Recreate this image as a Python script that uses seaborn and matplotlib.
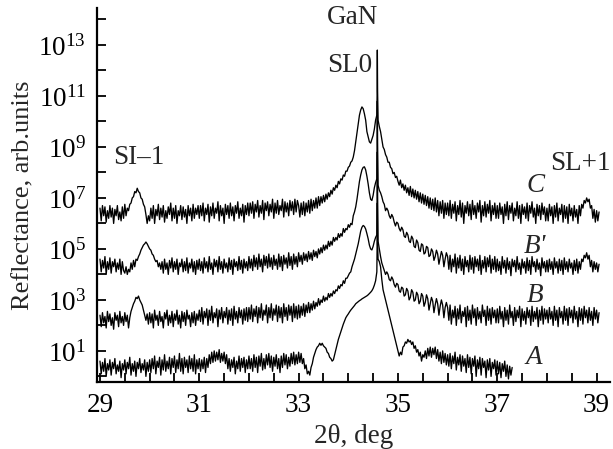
import numpy as np
import pandas as pd
import seaborn as sns
import matplotlib.pyplot as plt
from matplotlib.ticker import NullFormatter

# scan start / step in 2theta (deg); one row below = 1 deg (40 points)
# values are log10(reflectance)
SCAN_START = 29.0
SCAN_STEP = 0.025

# curve C (top)
C_LOG = [
    6.6, 6.1, 6.7, 6.3, 6.65, 6.05, 6.5, 6.2, 6.7, 6.25, 6.6, 6.0, 6.55, 6.3, 6.7, 6.15, 6.45, 6.1, 6.65, 6.2,
    6.75, 6.3, 6.6, 6.5, 6.75, 6.8, 7.0, 7.05, 7.25, 7.2, 7.38, 7.25, 7.2, 7.0, 6.95, 6.75, 6.65, 6.35, 6.0, 6.3,
    6.1, 6.6, 6.2, 6.7, 6.0, 6.55, 6.3, 6.75, 6.15, 6.6, 6.25, 6.7, 6.05, 6.5, 6.2, 6.65, 6.35, 6.8, 6.1, 6.6,
    6.2, 6.7, 6.0, 6.5, 6.3, 6.7, 6.15, 6.65, 6.25, 6.55, 6.0, 6.7, 6.3, 6.6, 6.1, 6.75, 6.2, 6.6, 6.35, 6.7,
    6.2, 6.7, 6.3, 6.8, 6.1, 6.6, 6.35, 6.75, 6.05, 6.65, 6.3, 6.8, 6.2, 6.6, 6.4, 6.85, 6.1, 6.7, 6.3, 6.6,
    6.0, 6.75, 6.35, 6.7, 6.2, 6.8, 6.3, 6.65, 6.1, 6.7, 6.4, 6.85, 6.2, 6.6, 6.3, 6.75, 6.05, 6.7, 6.35, 6.8,
    6.3, 6.8, 6.4, 6.85, 6.2, 6.75, 6.45, 6.9, 6.25, 6.7, 6.4, 6.9, 6.15, 6.8, 6.5, 6.85, 6.3, 6.75, 6.45, 6.95,
    6.2, 6.8, 6.4, 6.9, 6.35, 6.7, 6.5, 6.95, 6.25, 6.85, 6.45, 6.8, 6.3, 6.9, 6.5, 6.85, 6.35, 6.95, 6.45, 6.9,
    6.7, 6.25, 6.8, 6.35, 6.85, 6.3, 6.8, 6.45, 6.9, 6.4, 6.95, 6.5, 6.9, 6.6, 7.0, 6.6, 7.05, 6.7, 7.05, 6.8,
    7.1, 6.85, 7.15, 6.95, 7.2, 7.05, 7.3, 7.15, 7.4, 7.3, 7.5, 7.4, 7.65, 7.55, 7.75, 7.7, 7.9, 7.85, 8.05, 8.05,
    8.2, 8.25, 8.4, 8.45, 8.6, 8.85, 9.2, 9.55, 9.9, 10.25, 10.45, 10.57, 10.5, 10.3, 10.05, 9.6, 9.4, 9.2, 9.15, 9.3,
    9.45, 9.7, 10.05, 10.25, 10.05, 9.8, 9.6, 9.3, 9.0, 8.9, 8.7, 8.6, 8.4, 8.4, 8.2, 8.15, 7.95, 8.0, 7.8, 7.85,
    7.65, 7.5, 7.7, 7.4, 7.55, 7.3, 7.5, 7.2, 7.4, 7.1, 7.45, 7.05, 7.35, 7.0, 7.3, 6.95, 7.25, 6.85, 7.2, 6.8,
    7.15, 6.75, 7.1, 6.7, 7.05, 6.6, 7.0, 6.55, 6.95, 6.5, 7.0, 6.45, 6.9, 6.3, 6.85, 6.4, 6.9, 6.2, 6.8, 6.35,
    6.8, 6.3, 6.9, 6.2, 6.75, 6.4, 6.85, 6.1, 6.7, 6.35, 6.9, 6.25, 6.8, 6.0, 6.7, 6.4, 6.85, 6.3, 6.75, 6.15,
    6.9, 6.35, 6.7, 6.2, 6.8, 6.45, 6.9, 6.05, 6.7, 6.3, 6.85, 6.25, 6.75, 6.4, 6.9, 6.1, 6.7, 6.35, 6.8, 6.2,
    6.7, 6.2, 6.8, 6.35, 6.65, 6.0, 6.75, 6.3, 6.85, 6.15, 6.7, 6.4, 6.8, 6.1, 6.6, 6.3, 6.85, 6.2, 6.7, 6.0,
    6.75, 6.35, 6.65, 6.2, 6.8, 6.1, 6.7, 6.4, 6.85, 6.25, 6.6, 6.0, 6.75, 6.3, 6.7, 6.15, 6.8, 6.35, 6.65, 6.1,
    6.6, 6.1, 6.75, 6.3, 6.65, 6.0, 6.7, 6.25, 6.8, 6.1, 6.6, 6.35, 6.75, 6.05, 6.7, 6.2, 6.65, 6.0, 6.75, 6.3,
    6.6, 6.1, 6.7, 6.25, 6.55, 6.0, 6.7, 6.3, 6.75, 6.6, 6.9, 6.8, 7.0, 6.85, 6.95, 6.6, 6.7, 6.2, 6.55, 6.05,
    6.5, 6.1, 6.45,
]

# curve B'
BP_LOG = [
    4.6, 4.1, 4.55, 4.25, 4.7, 4.0, 4.5, 4.2, 4.65, 4.05, 4.5, 4.3, 4.6, 4.1, 4.45, 4.2, 4.6, 4.0, 4.5, 4.15,
    4.05, 4.3, 4.0, 4.2, 4.1, 4.45, 4.2, 4.55, 4.3, 4.6, 4.55, 4.7, 4.8, 4.95, 5.05, 5.15, 5.2, 5.27, 5.2, 5.1,
    5.0, 4.95, 4.8, 4.75, 4.6, 4.5, 4.55, 4.3, 4.45, 4.2, 4.5, 4.05, 4.6, 4.2, 4.45, 4.0, 4.55, 4.25, 4.65, 4.1,
    4.5, 4.2, 4.6, 4.0, 4.45, 4.3, 4.6, 4.1, 4.5, 4.15, 4.65, 4.05, 4.45, 4.25, 4.6, 4.1, 4.5, 4.0, 4.55, 4.2,
    4.6, 4.15, 4.5, 4.05, 4.65, 4.25, 4.5, 4.1, 4.7, 4.2, 4.45, 4.0, 4.6, 4.3, 4.55, 4.1, 4.7, 4.2, 4.5, 4.05,
    4.6, 4.25, 4.45, 4.1, 4.65, 4.2, 4.55, 4.0, 4.6, 4.3, 4.5, 4.15, 4.7, 4.2, 4.55, 4.05, 4.6, 4.25, 4.5, 4.15,
    4.7, 4.25, 4.6, 4.15, 4.75, 4.3, 4.65, 4.2, 4.8, 4.3, 4.6, 4.1, 4.75, 4.35, 4.7, 4.25, 4.8, 4.3, 4.65, 4.2,
    4.75, 4.35, 4.6, 4.2, 4.8, 4.3, 4.7, 4.15, 4.75, 4.4, 4.65, 4.25, 4.85, 4.35, 4.7, 4.2, 4.8, 4.4, 4.7, 4.3,
    4.85, 4.5, 4.75, 4.4, 4.85, 4.55, 4.8, 4.5, 4.9, 4.6, 4.85, 4.55, 4.95, 4.7, 4.9, 4.65, 5.0, 4.8, 5.05, 4.85,
    5.15, 4.95, 5.15, 5.0, 5.3, 5.1, 5.3, 5.15, 5.45, 5.3, 5.45, 5.35, 5.6, 5.45, 5.6, 5.5, 5.8, 5.65, 5.8, 5.75,
    5.95, 5.85, 6.0, 5.95, 6.3, 6.45, 6.65, 6.95, 7.3, 7.65, 7.9, 8.1, 8.2, 8.22, 8.1, 7.85, 7.55, 7.2, 6.95, 6.9,
    7.1, 7.4, 7.6, 7.75, 7.5, 7.3, 7.2, 7.05, 6.85, 6.75, 6.5, 6.6, 6.5, 6.3, 6.2, 6.35, 6.25, 6.05, 5.9, 6.05,
    6.0, 5.8, 5.7, 5.85, 5.75, 5.5, 5.45, 5.65, 5.55, 5.3, 5.25, 5.5, 5.4, 5.1, 5.05, 5.35, 5.25, 4.95, 4.9, 5.2,
    5.15, 4.8, 4.85, 5.1, 5.05, 4.7, 4.75, 5.0, 4.9, 4.55, 4.7, 4.95, 4.8, 4.4, 4.65, 4.9, 4.75, 4.3, 4.6, 4.85,
    4.7, 4.2, 4.75, 4.1, 4.6, 4.3, 4.8, 4.05, 4.65, 4.25, 4.75, 4.15, 4.6, 4.0, 4.7, 4.3, 4.55, 4.1, 4.75, 4.2,
    4.65, 4.05, 4.7, 4.3, 4.6, 4.15, 4.75, 4.0, 4.55, 4.25, 4.7, 4.1, 4.65, 4.3, 4.75, 4.05, 4.6, 4.2, 4.7, 4.1,
    4.6, 4.15, 4.5, 4.0, 4.7, 4.25, 4.55, 4.05, 4.65, 4.2, 4.5, 3.95, 4.6, 4.3, 4.55, 4.1, 4.7, 4.2, 4.45, 4.0,
    4.6, 4.25, 4.5, 4.05, 4.65, 4.15, 4.55, 4.0, 4.7, 4.3, 4.5, 4.1, 4.6, 4.2, 4.45, 3.95, 4.65, 4.25, 4.5, 4.1,
    4.55, 4.1, 4.6, 4.2, 4.5, 4.0, 4.65, 4.25, 4.5, 4.05, 4.6, 4.15, 4.55, 4.0, 4.65, 4.2, 4.5, 4.1, 4.6, 4.25,
    4.45, 4.0, 4.55, 4.15, 4.6, 4.05, 4.5, 4.2, 4.6, 4.5, 4.75, 4.65, 4.85, 4.6, 4.75, 4.3, 4.55, 4.1, 4.5, 4.2,
    4.45, 4.1, 4.4,
]

# curve B
B_LOG = [
    2.4, 1.95, 2.5, 2.1, 2.35, 1.9, 2.55, 2.15, 2.45, 2.0, 2.3, 1.85, 2.5, 2.2, 2.4, 1.95, 2.55, 2.1, 2.35, 2.0,
    2.5, 2.15, 2.4, 1.9, 2.3, 2.55, 2.7, 2.85, 2.95, 3.1, 3.05, 3.15, 3.0, 2.9, 2.8, 2.6, 2.4, 2.2, 2.45, 2.05,
    2.5, 2.1, 2.45, 1.9, 2.6, 2.2, 2.4, 2.0, 2.55, 2.15, 2.35, 1.9, 2.5, 2.25, 2.6, 2.0, 2.4, 2.1, 2.55, 1.95,
    2.45, 2.2, 2.6, 2.05, 2.4, 1.9, 2.55, 2.15, 2.5, 2.0, 2.6, 2.25, 2.4, 1.95, 2.5, 2.1, 2.55, 2.0, 2.45, 2.2,
    2.6, 2.15, 2.7, 2.05, 2.55, 2.3, 2.65, 2.0, 2.6, 2.2, 2.75, 2.1, 2.5, 2.3, 2.65, 1.95, 2.6, 2.25, 2.7, 2.1,
    2.55, 2.3, 2.7, 2.05, 2.6, 2.2, 2.65, 2.0, 2.75, 2.25, 2.55, 2.1, 2.7, 2.3, 2.6, 2.05, 2.65, 2.2, 2.7, 2.15,
    2.7, 2.25, 2.8, 2.15, 2.65, 2.35, 2.75, 2.1, 2.7, 2.3, 2.85, 2.2, 2.6, 2.4, 2.8, 2.1, 2.7, 2.3, 2.85, 2.2,
    2.65, 2.4, 2.8, 2.15, 2.75, 2.3, 2.7, 2.1, 2.85, 2.35, 2.7, 2.2, 2.8, 2.4, 2.75, 2.15, 2.85, 2.3, 2.75, 2.25,
    2.8, 2.3, 2.75, 2.4, 2.85, 2.35, 2.8, 2.5, 2.9, 2.5, 2.85, 2.6, 2.95, 2.65, 2.9, 2.75, 3.05, 2.8, 3.0, 2.9,
    3.15, 2.95, 3.1, 3.0, 3.25, 3.1, 3.25, 3.15, 3.35, 3.25, 3.4, 3.35, 3.55, 3.45, 3.6, 3.55, 3.75, 3.65, 3.85, 3.85,
    3.95, 4.05, 4.1, 4.3, 4.45, 4.6, 4.8, 5.0, 5.2, 5.45, 5.7, 5.85, 5.92, 5.88, 5.78, 5.6, 5.4, 5.15, 5.0, 4.96,
    5.1, 5.3, 5.45, 5.55, 5.3, 5.0, 4.7, 4.45, 4.3, 4.15, 4.0, 4.1, 4.0, 3.8, 3.75, 3.9, 3.8, 3.6, 3.5, 3.65,
    3.6, 3.35, 3.3, 3.5, 3.45, 3.15, 3.2, 3.45, 3.35, 3.0, 3.1, 3.4, 3.3, 2.95, 3.0, 3.3, 3.2, 2.85, 2.95, 3.25,
    3.15, 2.75, 2.9, 3.2, 3.05, 2.6, 2.85, 3.1, 2.95, 2.5, 2.8, 3.05, 2.85, 2.4, 2.75, 3.0, 2.8, 2.3, 2.7, 2.9,
    2.7, 2.2, 2.8, 2.05, 2.6, 2.3, 2.75, 2.0, 2.65, 2.25, 2.8, 2.1, 2.55, 2.35, 2.7, 1.95, 2.75, 2.2, 2.6, 2.05,
    2.8, 2.3, 2.65, 2.0, 2.7, 2.25, 2.55, 2.1, 2.8, 2.35, 2.6, 2.0, 2.75, 2.2, 2.65, 2.05, 2.7, 2.3, 2.6, 2.1,
    2.65, 2.1, 2.75, 2.25, 2.55, 1.95, 2.7, 2.2, 2.6, 2.05, 2.8, 2.3, 2.55, 2.0, 2.7, 2.15, 2.6, 2.3, 2.75, 1.95,
    2.65, 2.2, 2.55, 2.05, 2.7, 2.3, 2.6, 2.0, 2.75, 2.15, 2.55, 2.25, 2.7, 1.95, 2.6, 2.2, 2.75, 2.05, 2.65, 2.25,
    2.6, 2.1, 2.7, 2.25, 2.55, 2.0, 2.75, 2.2, 2.6, 1.95, 2.7, 2.3, 2.55, 2.05, 2.75, 2.2, 2.65, 2.0, 2.7, 2.3,
    2.6, 2.1, 2.75, 2.25, 2.55, 1.95, 2.7, 2.2, 2.65, 2.05, 2.75, 2.3, 2.6, 2.1, 2.7, 2.2, 2.55, 2.0, 2.7, 2.25,
    2.6, 2.1, 2.5,
]

# curve A (scan stops at 37.3)
A_LOG = [
    0.6, 0.1, 0.55, 0.2, 0.7, 0.0, 0.5, 0.25, 0.65, 0.05, 0.55, 0.3, 0.7, 0.1, 0.45, 0.2, 0.6, -0.05, 0.5, 0.25,
    0.65, 0.1, 0.55, 0.3, 0.75, 0.05, 0.5, 0.2, 0.6, 0.0, 0.55, 0.3, 0.7, 0.15, 0.5, 0.25, 0.65, 0.0, 0.55, 0.2,
    0.65, 0.15, 0.7, 0.3, 0.8, 0.1, 0.6, 0.35, 0.75, 0.05, 0.65, 0.25, 0.85, 0.2, 0.6, 0.3, 0.75, 0.1, 0.7, 0.35,
    0.8, 0.15, 0.65, 0.3, 0.9, 0.2, 0.7, 0.1, 0.75, 0.35, 0.65, 0.15, 0.8, 0.3, 0.7, 0.2, 0.85, 0.1, 0.65, 0.3,
    0.7, 0.2, 0.65, 0.3, 0.75, 0.15, 0.7, 0.35, 0.85, 0.5, 0.95, 0.55, 1.0, 0.6, 0.95, 0.65, 1.05, 0.55, 0.9, 0.6,
    0.95, 0.5, 0.85, 0.3, 0.7, 0.2, 0.65, 0.35, 0.75, 0.1, 0.6, 0.3, 0.8, 0.2, 0.7, 0.35, 0.75, 0.15, 0.65, 0.3,
    0.8, 0.3, 0.7, 0.2, 0.85, 0.35, 0.75, 0.15, 0.8, 0.4, 0.9, 0.25, 0.7, 0.3, 0.85, 0.45, 0.9, 0.35, 0.8, 0.2,
    0.75, 0.4, 0.85, 0.3, 0.7, 0.15, 0.8, 0.35, 0.9, 0.45, 0.85, 0.3, 0.75, 0.4, 0.9, 0.5, 0.95, 0.45, 0.85, 0.5,
    0.95, 0.55, 0.9, 0.5, 0.7, 0.3, 0.45, 0.1, 0.2, 0.05, 0.35, 0.5, 0.75, 0.9, 1.05, 1.15, 1.2, 1.3, 1.22, 1.3,
    1.2, 1.15, 1.1, 0.95, 0.9, 0.75, 0.7, 0.6, 0.65, 0.85, 1.05, 1.25, 1.45, 1.6, 1.75, 1.9, 2.05, 2.18, 2.3, 2.38,
    2.45, 2.53, 2.6, 2.66, 2.72, 2.78, 2.85, 2.89, 2.93, 2.97, 3.0, 3.04, 3.07, 3.1, 3.13, 3.16, 3.2, 3.25, 3.3, 3.36,
    3.45, 3.58, 3.75, 4.1, 4.6, 4.5, 4.3, 3.8, 3.4, 3.2, 3.0, 2.8, 2.6, 2.4, 2.2, 2.0, 1.8, 1.6, 1.4, 1.2,
    1.0, 0.8, 0.95, 0.85, 1.15, 1.2, 1.35, 1.3, 1.45, 1.35, 1.4, 1.25, 1.35, 1.1, 1.2, 0.95, 1.05, 0.8, 0.95, 0.6,
    0.85, 0.75, 1.0, 0.7, 1.1, 0.8, 1.15, 0.75, 1.1, 0.85, 1.15, 0.7, 1.05, 0.6, 0.95, 0.5, 1.0, 0.55, 0.9, 0.45,
    0.85, 0.4, 0.9, 0.3, 0.8, 0.5, 0.95, 0.25, 0.75, 0.45, 0.85, 0.2, 0.8, 0.4, 0.7, 0.15, 0.85, 0.35, 0.75, 0.1,
    0.7, 0.4, 0.8, 0.0, 0.65, 0.3, 0.75, 0.05, 0.7, 0.35, 0.6, -0.05, 0.65, 0.25, 0.7, 0.0, 0.55, 0.3, 0.65, 0.05,
    0.6, 0.1, 0.55, -0.05, 0.5, 0.2, 0.6, 0.0, 0.45, -0.1, 0.4, 0.05, 0.35,
]

# narrow GaN substrate peak, sampled finer
GAN_X = [34.58, 34.585, 34.59]
GAN_A = [5.0, 6.8, 5.2]
GAN_B = [7.0, 8.8, 7.2]
GAN_BP = [9.0, 10.8, 9.2]
GAN_C = [11.0, 12.8, 11.2]

CURVES = ["A", "B", "B'", "C"]
LOGS = [A_LOG, B_LOG, BP_LOG, C_LOG]
GANS = [GAN_A, GAN_B, GAN_BP, GAN_C]

X_TICKS = [29, 31, 33, 35, 37, 39]
Y_EXPONENTS = [1, 3, 5, 7, 9, 11, 13]

# ---- build long table ----
frames = []
for name, vals, gan in zip(CURVES, LOGS, GANS):
    x = SCAN_START + SCAN_STEP * np.arange(len(vals))
    x = np.concatenate([x, GAN_X])
    y = np.concatenate([vals, gan])
    order = np.argsort(x)
    frames.append(pd.DataFrame({"two_theta": x[order],
                                "refl": 10.0 ** y[order],
                                "curve": name}))
df = pd.concat(frames, ignore_index=True)

sns.set_theme(style="ticks")
plt.rcParams["font.family"] = ["Liberation Serif", "DejaVu Serif"]
plt.rcParams["mathtext.fontset"] = "stix"

FS = 19.5
W, H = 613, 449
fig = plt.figure(figsize=(W / 100, H / 100), dpi=100)
ax = fig.add_axes([97 / W, 1 - 382 / H, 513 / W, 374 / H])

sns.lineplot(data=df, x="two_theta", y="refl", units="curve", estimator=None,
             color="black", linewidth=0.95, sort=False, ax=ax)

ax.set_yscale("log")
ax.set_xlim(28.94, 39.27)
ax.set_ylim(10 ** -0.22, 10 ** 14.45)

ax.set_xticks(X_TICKS)
ax.set_xticks(np.arange(29, 39.01, 0.5), minor=True)
ax.set_yticks([10.0 ** k for k in Y_EXPONENTS])
ax.set_yticks([10.0 ** k for k in range(0, 15, 2)], minor=True)
ax.yaxis.set_minor_formatter(NullFormatter())

ax.tick_params(which="both", direction="in", length=6.5, width=1.3,
               labelsize=FS, color="black", labelcolor="black")
ax.tick_params(axis="x", pad=8)
ax.tick_params(axis="y", pad=8)

sns.despine(ax=ax)
for s in ["left", "bottom"]:
    ax.spines[s].set_linewidth(1.6)
    ax.spines[s].set_color("black")

ax.set_xlabel("2θ, deg", fontsize=FS, labelpad=4)
ax.set_ylabel("Reflectance, arb.units", fontsize=19)
ax.yaxis.label.set_va("center")
ax.yaxis.set_label_coords((23 - 97) / 513, 0.5)

# annotations (positions in figure pixels)
def label(px, py, s, italic=False):
    fig.text(px / W, 1 - py / H, s, ha="center", va="center", fontsize=FS,
             style="italic" if italic else "normal")

label(353, 18, "GaN")
label(350, 65, "SL0")
label(139, 158, "SI–1")
label(580, 164, "SL+1")
label(536, 186, "C", italic=True)
label(535, 246, "B'", italic=True)
label(535, 296, "B", italic=True)
label(534, 357, "A", italic=True)

fig.savefig("out.png", dpi=100)
